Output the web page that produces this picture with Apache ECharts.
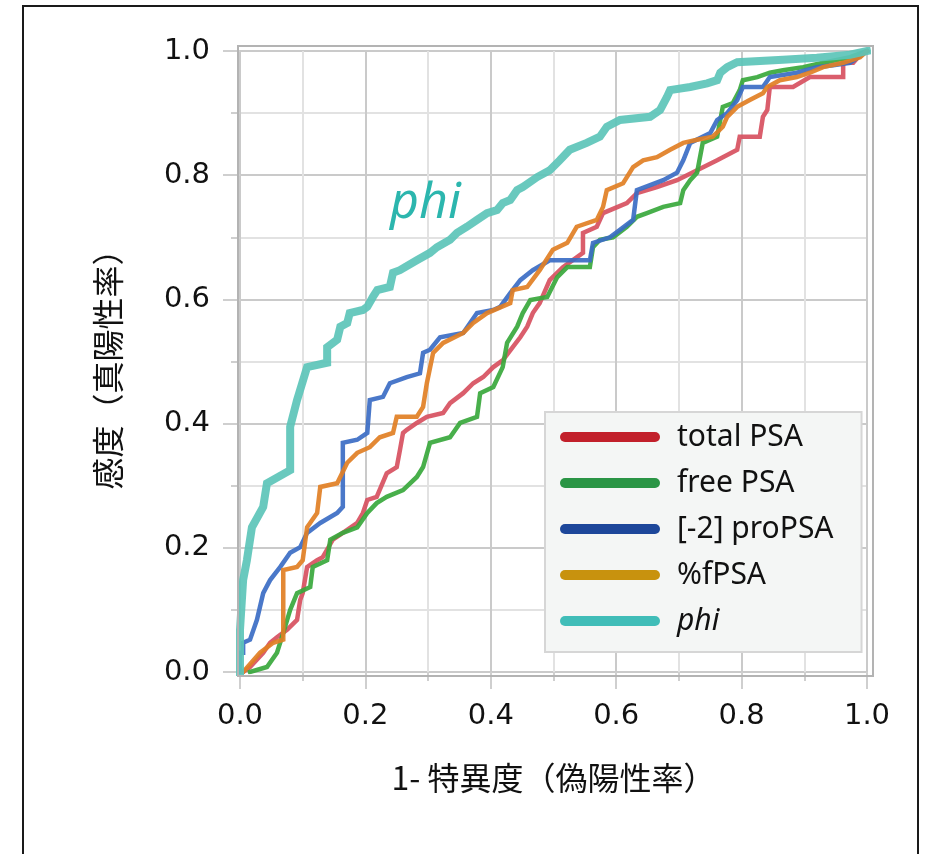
<!DOCTYPE html>
<html>
<head>
<meta charset="utf-8">
<script src="https://cdn.jsdelivr.net/npm/echarts@6/dist/echarts.min.js"></script>
<style>
html,body{margin:0;padding:0;background:#fff;}
#chart{width:928px;height:854px;}
</style>
</head>
<body>
<div id="chart"></div>
<script>
// ---- Data ----
const seriesNames = ['total PSA', 'free PSA', '[-2] proPSA', '%fPSA', 'phi'];

const totalPsaX = [0.005, 0.016, 0.037, 0.048, 0.059, 0.075, 0.091, 0.096, 0.1, 0.107, 0.123, 0.132, 0.148, 0.171, 0.187, 0.196, 0.203, 0.218, 0.234, 0.25, 0.255, 0.26, 0.266, 0.282, 0.298, 0.324, 0.335, 0.356, 0.372, 0.388, 0.404, 0.419, 0.435, 0.447, 0.458, 0.467, 0.478, 0.494, 0.515, 0.547, 0.547, 0.569, 0.579, 0.617, 0.633, 0.665, 0.697, 0.729, 0.761, 0.793, 0.797, 0.829, 0.834, 0.841, 0.845, 0.882, 0.909, 0.962, 0.962, 0.978, 0.989, 1];
const totalPsaY = [0, 0.008, 0.031, 0.047, 0.056, 0.068, 0.084, 0.116, 0.127, 0.169, 0.18, 0.185, 0.213, 0.229, 0.24, 0.256, 0.277, 0.282, 0.32, 0.33, 0.357, 0.385, 0.39, 0.401, 0.411, 0.417, 0.433, 0.449, 0.465, 0.475, 0.491, 0.502, 0.523, 0.539, 0.556, 0.578, 0.594, 0.631, 0.652, 0.675, 0.707, 0.717, 0.739, 0.755, 0.771, 0.781, 0.792, 0.808, 0.824, 0.841, 0.862, 0.862, 0.894, 0.905, 0.942, 0.942, 0.958, 0.958, 0.981, 0.981, 0.994, 1];

const freePsaX = [0.016, 0.043, 0.059, 0.069, 0.08, 0.091, 0.112, 0.116, 0.139, 0.144, 0.164, 0.187, 0.203, 0.218, 0.234, 0.26, 0.282, 0.292, 0.303, 0.335, 0.351, 0.378, 0.383, 0.404, 0.419, 0.426, 0.442, 0.451, 0.463, 0.49, 0.506, 0.522, 0.558, 0.563, 0.574, 0.595, 0.617, 0.633, 0.649, 0.675, 0.702, 0.707, 0.718, 0.729, 0.738, 0.761, 0.77, 0.786, 0.797, 0.802, 0.825, 0.845, 0.866, 0.898, 0.93, 0.973, 1];
const freePsaY = [0, 0.008, 0.031, 0.063, 0.1, 0.127, 0.137, 0.169, 0.18, 0.213, 0.224, 0.233, 0.256, 0.272, 0.282, 0.293, 0.314, 0.33, 0.369, 0.378, 0.401, 0.411, 0.449, 0.459, 0.491, 0.53, 0.556, 0.578, 0.599, 0.604, 0.636, 0.652, 0.652, 0.684, 0.696, 0.7, 0.717, 0.733, 0.739, 0.749, 0.755, 0.776, 0.792, 0.804, 0.852, 0.862, 0.91, 0.916, 0.937, 0.953, 0.958, 0.965, 0.969, 0.974, 0.981, 0.99, 1];

const proPsaX = [0, 0, 0.005, 0.005, 0.016, 0.027, 0.037, 0.048, 0.064, 0.08, 0.096, 0.107, 0.128, 0.155, 0.164, 0.164, 0.187, 0.203, 0.207, 0.228, 0.239, 0.266, 0.287, 0.292, 0.303, 0.319, 0.356, 0.378, 0.404, 0.415, 0.431, 0.447, 0.467, 0.494, 0.558, 0.563, 0.59, 0.606, 0.627, 0.633, 0.675, 0.697, 0.707, 0.718, 0.75, 0.761, 0.777, 0.793, 0.802, 0.834, 0.845, 0.888, 0.92, 0.946, 0.973, 1];
const proPsaY = [0, 0.031, 0.031, 0.047, 0.052, 0.084, 0.127, 0.148, 0.169, 0.192, 0.201, 0.224, 0.24, 0.256, 0.266, 0.369, 0.374, 0.385, 0.438, 0.443, 0.465, 0.475, 0.481, 0.514, 0.519, 0.539, 0.546, 0.578, 0.583, 0.588, 0.61, 0.631, 0.647, 0.663, 0.663, 0.691, 0.7, 0.712, 0.728, 0.776, 0.792, 0.804, 0.824, 0.852, 0.868, 0.889, 0.9, 0.921, 0.942, 0.942, 0.958, 0.965, 0.974, 0.977, 0.981, 1];

const pctFPsaX = [0.005, 0.032, 0.053, 0.069, 0.069, 0.091, 0.1, 0.107, 0.123, 0.128, 0.155, 0.171, 0.187, 0.207, 0.223, 0.244, 0.25, 0.282, 0.292, 0.298, 0.308, 0.324, 0.356, 0.372, 0.394, 0.431, 0.435, 0.458, 0.478, 0.499, 0.522, 0.537, 0.569, 0.579, 0.585, 0.611, 0.627, 0.643, 0.665, 0.686, 0.707, 0.729, 0.754, 0.77, 0.777, 0.793, 0.813, 0.834, 0.841, 0.861, 0.888, 0.909, 0.93, 0.962, 0.989, 1];
const pctFPsaY = [0, 0.031, 0.047, 0.052, 0.164, 0.169, 0.18, 0.233, 0.256, 0.298, 0.304, 0.337, 0.353, 0.362, 0.378, 0.385, 0.411, 0.411, 0.427, 0.465, 0.514, 0.53, 0.546, 0.562, 0.578, 0.594, 0.615, 0.62, 0.647, 0.68, 0.691, 0.717, 0.728, 0.749, 0.776, 0.787, 0.813, 0.824, 0.829, 0.841, 0.852, 0.857, 0.862, 0.878, 0.894, 0.91, 0.921, 0.932, 0.942, 0.953, 0.958, 0.965, 0.974, 0.981, 0.99, 1];

const phiX = [0, 0, 0.005, 0.011, 0.019, 0.037, 0.043, 0.08, 0.08, 0.091, 0.107, 0.139, 0.139, 0.155, 0.16, 0.171, 0.175, 0.196, 0.203, 0.212, 0.219, 0.239, 0.244, 0.255, 0.282, 0.303, 0.314, 0.335, 0.346, 0.362, 0.378, 0.394, 0.41, 0.419, 0.431, 0.442, 0.451, 0.474, 0.494, 0.51, 0.526, 0.553, 0.574, 0.585, 0.606, 0.654, 0.67, 0.681, 0.686, 0.718, 0.745, 0.761, 0.766, 0.777, 0.793, 0.866, 0.92, 0.973, 1.0];
const phiY = [0, 0.068, 0.148, 0.18, 0.233, 0.266, 0.304, 0.325, 0.395, 0.438, 0.491, 0.498, 0.523, 0.535, 0.556, 0.562, 0.578, 0.583, 0.588, 0.604, 0.615, 0.62, 0.643, 0.647, 0.663, 0.675, 0.684, 0.696, 0.707, 0.717, 0.728, 0.739, 0.744, 0.755, 0.76, 0.776, 0.781, 0.797, 0.808, 0.824, 0.841, 0.852, 0.862, 0.878, 0.889, 0.894, 0.905, 0.926, 0.937, 0.942, 0.948, 0.953, 0.965, 0.974, 0.982, 0.986, 0.989, 0.994, 1.0];

const xTitle = '1- 特異度（偽陽性率）';
const yTitle = '感度（真陽性率）';
const annotation = 'phi';

// ---- Styles ----
const lineColors = ['#d7505f', '#38a83c', '#3b6cc4', '#e17f24', '#5cc4b9'];
const legendColors = ['#c2202b', '#2a9545', '#1d479a', '#c8920e', '#40bdb8'];
const lineWidths = [4.5, 4.5, 4.5, 4.5, 8];

function zip(xs, ys) {
  const n = Math.min(xs.length, ys.length);
  const out = [];
  for (let i = 0; i < n; i++) out.push([xs[i], ys[i]]);
  return out;
}
const allX = [totalPsaX, freePsaX, proPsaX, pctFPsaX, phiX];
const allY = [totalPsaY, freePsaY, proPsaY, pctFPsaY, phiY];

const series = seriesNames.map((name, i) => ({
  name: name,
  type: 'line',
  showSymbol: false,
  symbol: 'none',
  data: zip(allX[i], allY[i]),
  lineStyle: { color: lineColors[i], width: lineWidths[i], cap: 'square', join: 'miter', opacity: 0.92 },
  itemStyle: { color: legendColors[i] },
  z: 3 + i
}));

const chart = echarts.init(document.getElementById('chart'), null, { renderer: 'canvas' });
const tickFont = 'DejaVu Sans';
const option = {
  animation: false,
  backgroundColor: '#ffffff',
  grid: { left: 240, top: 51, right: 61, bottom: 182, containLabel: false },
  xAxis: {
    type: 'value', min: 0, max: 1, interval: 0.2,
    axisLine: { show: false },
    axisTick: { show: true, length: 17, lineStyle: { color: '#cfcfcf', width: 2 } },
    minorTick: { show: true, splitNumber: 2, length: 9, lineStyle: { color: '#cfcfcf', width: 2 } },
    splitLine: { show: true, lineStyle: { color: '#cacaca', width: 2 } },
    minorSplitLine: { show: true, lineStyle: { color: '#e2e2e2', width: 2 } },
    axisLabel: { margin: 30, color: '#111', fontSize: 29, fontFamily: tickFont, formatter: v => v.toFixed(1) },
    name: xTitle, nameLocation: 'middle', nameGap: 90,
    nameTextStyle: { color: '#111', fontSize: 32, fontFamily: 'Noto Sans CJK JP' }
  },
  yAxis: {
    type: 'value', min: 0, max: 1, interval: 0.2,
    axisLine: { show: false },
    axisTick: { show: true, length: 17, lineStyle: { color: '#cfcfcf', width: 2 } },
    minorTick: { show: true, splitNumber: 2, length: 9, lineStyle: { color: '#cfcfcf', width: 2 } },
    splitLine: { show: true, lineStyle: { color: '#cacaca', width: 2 } },
    minorSplitLine: { show: true, lineStyle: { color: '#e2e2e2', width: 2 } },
    axisLabel: { margin: 30, color: '#111', fontSize: 29, fontFamily: tickFont, formatter: v => v.toFixed(1) },
    name: yTitle, nameLocation: 'middle', nameGap: 116, nameRotate: 90,
    nameTextStyle: { color: '#111', fontSize: 32, fontFamily: 'Noto Sans CJK JP' }
  },
  legend: {
    orient: 'vertical',
    left: 545, top: 412,
    padding: [10, 28, 16, 15],
    itemGap: 16,
    itemWidth: 100, itemHeight: 10,
    icon: 'path://M5,0 H95 A5,5 0 0 1 95,10 H5 A5,5 0 0 1 5,0 Z',
    backgroundColor: '#f4f6f5',
    borderColor: '#d6d6d6', borderWidth: 2, borderRadius: 0,
    itemStyle: { borderWidth: 0 },
    data: seriesNames,
    selectedMode: false,
    textStyle: { color: '#111', fontSize: 30, fontFamily: 'Noto Sans', lineHeight: 30, padding: [0, 0, 0, 12],
      rich: { i: { fontStyle: 'italic', fontSize: 30, fontFamily: 'Noto Sans', color: '#111', lineHeight: 30 } } },
    formatter: name => name === 'phi' ? '{i|phi}' : name
  },
  graphic: [
    { type: 'rect', z: -10, silent: true,
      shape: { x: 23, y: 6, width: 895, height: 900 },
      style: { fill: 'none', stroke: '#1a1a1a', lineWidth: 2 } },
    { type: 'rect', z: 100, silent: true,
      shape: { x: 238, y: 46, width: 635, height: 630 },
      style: { fill: 'none', stroke: '#b3b3b3', lineWidth: 2 } },
    { type: 'text', z: 100, silent: true, x: 390, y: 204,
      style: { text: annotation, font: 'italic 50px "Noto Sans"', fill: '#2cb6ae', verticalAlign: 'middle', align: 'left' } }
  ],
  series: series
};
chart.setOption(option);
</script>
</body>
</html>
